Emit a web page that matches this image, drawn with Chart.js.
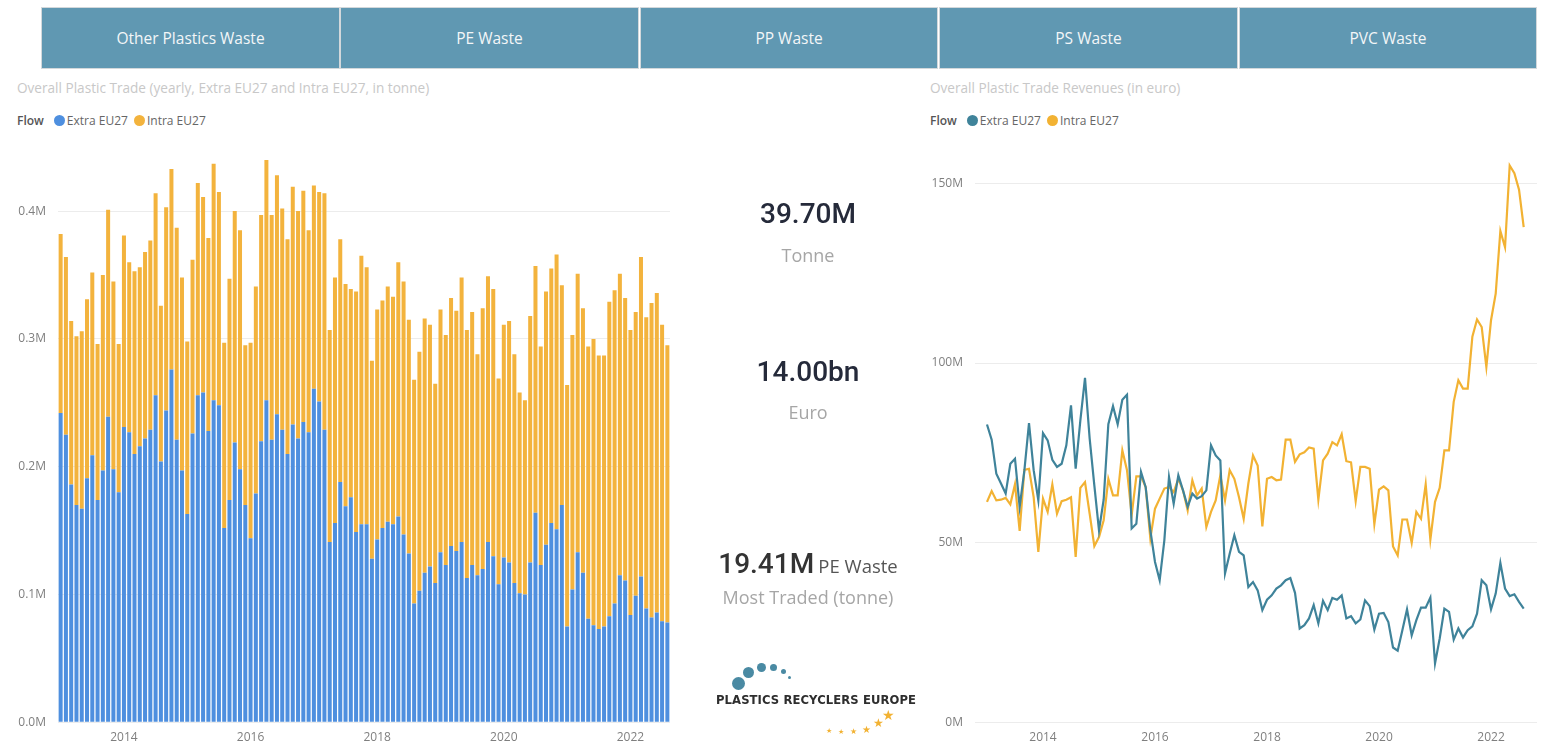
<!DOCTYPE html>
<html>
<head>
<meta charset="utf-8">
<script src="https://cdn.jsdelivr.net/npm/chart.js@4.4.1/dist/chart.umd.min.js"></script>
<style>
  body { margin: 0; background: #fff; font-family: 'Segoe UI', 'Open Sans', sans-serif; }
  #page { position: relative; width: 1542px; height: 743px; overflow: hidden; background: #fff; }
  .btn { position: absolute; top: 8px; height: 60px; background: #6098b2; color: #f3f6f8; font-size: 15.5px;
         display: flex; align-items: center; justify-content: center; box-shadow: 0 0 0 1px #d3d8db; }
  .title { position: absolute; top: 78px; font-size: 13.6px; color: #c8c8c8; white-space: nowrap; }
  .legend { position: absolute; top: 112px; font-size: 12px; color: #666; display: flex; align-items: center; white-space: nowrap; }
  .legend b { color: #555; font-weight: 600; margin-right: 8px; }
  .dot { width: 11px; height: 11px; border-radius: 50%; display: inline-block; margin: 0 2px 0 2px; }
  .kpi { position: absolute; left: 700px; width: 216px; text-align: center; }
  .kpi .num { font-family: 'Roboto', sans-serif; font-weight: 500; font-size: 28px; color: #252a3a; }
  .kpi .sub { font-size: 18px; color: #a6a6a6; }
  .chartbox { position: absolute; top: 128px; }
  #logo { position: absolute; left: 712px; top: 655px; width: 210px; height: 88px; }
  #logo .c { position: absolute; border-radius: 50%; background: #4a8aa3; }
  #logo .t { position: absolute; left: 4px; top: 38px; font-family: 'DejaVu Sans', sans-serif; font-weight: bold;
             font-size: 11.6px; color: #2e2e2e; letter-spacing: 0.1px; white-space: nowrap; }
  #logo .s { position: absolute; color: #f2b233; line-height: 1; }
</style>
</head>
<body>
<div id="page">
  <div class="btn" style="left:42px;width:297px">Other Plastics Waste</div>
  <div class="btn" style="left:341px;width:297px">PE Waste</div>
  <div class="btn" style="left:641px;width:296px">PP Waste</div>
  <div class="btn" style="left:940px;width:297px">PS Waste</div>
  <div class="btn" style="left:1240px;width:296px">PVC Waste</div>

  <div class="title" style="left:17px">Overall Plastic Trade (yearly, Extra EU27 and Intra EU27, in tonne)</div>
  <div class="legend" style="left:17px"><b>Flow</b><span class="dot" style="background:#4e8fdf"></span>Extra EU27<span class="dot" style="background:#f3b33d;margin-left:6px"></span>Intra EU27</div>

  <div class="title" style="left:930px">Overall Plastic Trade Revenues (in euro)</div>
  <div class="legend" style="left:930px"><b>Flow</b><span class="dot" style="background:#3f839a"></span>Extra EU27<span class="dot" style="background:#f2b233;margin-left:6px"></span>Intra EU27</div>

  <div class="chartbox" style="left:0px"><canvas id="tonneChart" width="680" height="615"></canvas></div>
  <div class="chartbox" style="left:900px"><canvas id="euroChart" width="642" height="615"></canvas></div>

  <div class="kpi" style="top:197px"><div class="num">39.70M</div><div class="sub" style="margin-top:13px">Tonne</div></div>
  <div class="kpi" style="top:355px"><div class="num">14.00bn</div><div class="sub" style="margin-top:12px">Euro</div></div>
  <div class="kpi" style="top:547px"><div><span class="num" style="color:#333">19.41M</span> <span style="font-size:18.5px;color:#555">PE Waste</span></div><div class="sub" style="margin-top:5px">Most Traded (tonne)</div></div>

  <div id="logo">
    <div class="c" style="left:20px;top:22px;width:13px;height:13px"></div>
    <div class="c" style="left:31px;top:12px;width:11px;height:11px"></div>
    <div class="c" style="left:45px;top:8px;width:9px;height:9px"></div>
    <div class="c" style="left:58px;top:9px;width:7px;height:7px"></div>
    <div class="c" style="left:69px;top:14px;width:5px;height:5px"></div>
    <div class="c" style="left:76px;top:21px;width:3px;height:3px"></div>
    <div class="t">PLASTICS RECYCLERS EUROPE</div>
    <div class="s" style="left:114px;top:72px;font-size:7px">★</div>
    <div class="s" style="left:126px;top:73px;font-size:7px">★</div>
    <div class="s" style="left:138px;top:72px;font-size:8px">★</div>
    <div class="s" style="left:150px;top:69px;font-size:10px">★</div>
    <div class="s" style="left:161px;top:62px;font-size:12px">★</div>
    <div class="s" style="left:170px;top:53px;font-size:14px">★</div>
  </div>
</div>

<script>
// months Jan 2013 .. Aug 2022
const months = [];
for (let y = 2013; y <= 2022; y++) {
    for (let m = 1; m <= 12; m++) {
        if (y === 2022 && m > 8) break;
        months.push(y + '-' + String(m).padStart(2, '0'));
    }
}
const yearTicks = ['2014', '2016', '2018', '2020', '2022'];

// tonnes, in millions
const tonneExtra = [
    0.242, 0.225, 0.186, 0.170, 0.167, 0.191, 0.209, 0.174, 0.197, 0.239, 0.198, 0.180,
    0.231, 0.227, 0.210, 0.216, 0.222, 0.229, 0.256, 0.204, 0.244, 0.276, 0.221, 0.197,
    0.163, 0.226, 0.256, 0.258, 0.228, 0.252, 0.248, 0.152, 0.174, 0.219, 0.198, 0.170,
    0.144, 0.179, 0.220, 0.252, 0.221, 0.241, 0.229, 0.210, 0.233, 0.222, 0.235, 0.227,
    0.261, 0.251, 0.229, 0.141, 0.156, 0.188, 0.169, 0.176, 0.149, 0.155, 0.155, 0.128,
    0.143, 0.152, 0.157, 0.155, 0.161, 0.147, 0.132, 0.093, 0.103, 0.117, 0.122, 0.109,
    0.133, 0.123, 0.138, 0.134, 0.141, 0.113, 0.123, 0.115, 0.120, 0.141, 0.130, 0.108,
    0.129, 0.125, 0.109, 0.101, 0.100, 0.125, 0.164, 0.123, 0.139, 0.156, 0.151, 0.170,
    0.075, 0.104, 0.133, 0.117, 0.081, 0.076, 0.073, 0.075, 0.083, 0.093, 0.115, 0.111,
    0.084, 0.099, 0.114, 0.089, 0.082, 0.086, 0.079, 0.078
];
const tonneIntra = [
    0.140, 0.139, 0.128, 0.132, 0.139, 0.140, 0.143, 0.122, 0.153, 0.162, 0.147, 0.116,
    0.150, 0.133, 0.143, 0.140, 0.146, 0.148, 0.158, 0.122, 0.159, 0.157, 0.166, 0.151,
    0.135, 0.136, 0.166, 0.153, 0.151, 0.185, 0.167, 0.145, 0.173, 0.181, 0.187, 0.125,
    0.153, 0.162, 0.177, 0.188, 0.176, 0.187, 0.173, 0.168, 0.186, 0.178, 0.181, 0.158,
    0.159, 0.164, 0.185, 0.166, 0.192, 0.190, 0.174, 0.163, 0.188, 0.210, 0.201, 0.155,
    0.180, 0.178, 0.184, 0.178, 0.199, 0.198, 0.183, 0.175, 0.187, 0.199, 0.189, 0.156,
    0.190, 0.180, 0.194, 0.188, 0.207, 0.194, 0.198, 0.173, 0.204, 0.208, 0.209, 0.161,
    0.182, 0.189, 0.179, 0.157, 0.152, 0.193, 0.193, 0.171, 0.198, 0.199, 0.215, 0.172,
    0.189, 0.199, 0.218, 0.207, 0.213, 0.224, 0.214, 0.212, 0.246, 0.245, 0.236, 0.221,
    0.223, 0.222, 0.250, 0.228, 0.246, 0.250, 0.232, 0.217
];

// euro, in millions
const euroExtra = [
    82.9, 78.7, 69.2, 66.5, 63.7, 72.0, 73.4, 60.0, 70.0, 83.3, 70.2, 61.8,
    80.5, 78.5, 73.1, 71.1, 72.0, 77.1, 88.2, 70.6, 84.0, 95.9, 79.0, 66.0,
    53.5, 62.0, 83.0, 88.0, 83.0, 89.8, 91.2, 54.0, 55.3, 69.7, 65.5, 53.5,
    44.7, 39.6, 50.7, 68.3, 60.9, 68.8, 64.6, 60.0, 63.7, 62.3, 63.0, 64.6,
    77.1, 74.3, 72.9, 41.5, 47.0, 52.1, 47.5, 46.5, 37.7, 39.1, 36.8, 31.3,
    34.2, 35.4, 37.3, 38.2, 39.6, 40.2, 36.1, 26.2, 27.1, 29.0, 32.7, 27.6,
    33.9, 31.3, 34.7, 34.2, 35.4, 29.0, 29.6, 27.6, 28.7, 34.0, 32.4, 25.9,
    30.3, 30.5, 28.0, 20.9, 20.0, 25.7, 31.5, 24.3, 28.5, 32.0, 32.0, 34.8,
    16.5, 23.4, 31.7, 30.8, 23.1, 26.2, 23.7, 25.7, 26.8, 30.3, 39.6, 38.2,
    31.5, 35.9, 44.4, 37.3, 35.2, 35.7, 33.6, 31.7
];
const euroIntra = [
    61.4, 64.4, 61.8, 62.0, 62.5, 60.7, 66.3, 53.3, 70.3, 70.6, 62.7, 47.5,
    62.3, 58.6, 66.2, 58.1, 61.6, 62.0, 62.7, 46.1, 65.3, 66.9, 58.1, 49.1,
    51.6, 56.3, 67.8, 63.2, 63.2, 75.7, 70.2, 57.7, 68.5, 68.5, 65.5, 51.2,
    59.5, 62.3, 65.1, 65.5, 64.1, 67.8, 64.6, 59.0, 67.4, 63.2, 65.1, 54.4,
    58.6, 61.8, 68.8, 61.8, 70.2, 67.8, 62.7, 56.7, 66.5, 74.3, 71.5, 54.6,
    67.8, 68.3, 67.4, 67.6, 78.7, 78.7, 72.5, 74.6, 75.2, 76.5, 76.2, 62.0,
    72.9, 74.8, 78.0, 77.1, 80.2, 72.7, 72.4, 61.6, 71.1, 71.1, 70.6, 55.2,
    64.8, 65.7, 64.6, 49.0, 46.5, 56.5, 56.5, 50.0, 58.6, 56.7, 66.3, 50.9,
    61.4, 65.3, 75.7, 75.7, 89.2, 95.2, 92.9, 92.9, 107.3, 112.1, 110.0, 98.9,
    111.9, 119.3, 136.7, 132.2, 154.9, 152.8, 148.2, 137.8
];

const tickColor = '#7f7f7f';
const gridColor = '#ececec';
const tickFont = { family: "'Segoe UI', 'Open Sans', sans-serif", size: 12 };

function yearLabel(i) {
    const m = months[i];
    if (m && m.endsWith('-01') && yearTicks.includes(m.slice(0, 4))) return m.slice(0, 4);
    return '';
}

new Chart(document.getElementById('tonneChart'), {
    type: 'bar',
    data: {
        labels: months,
        datasets: [{
            label: 'Extra EU27',
            data: tonneExtra,
            backgroundColor: '#4e8fdf',
            barPercentage: 0.76,
            categoryPercentage: 1
        }, {
            label: 'Intra EU27',
            data: tonneIntra,
            backgroundColor: '#f3b33d',
            barPercentage: 0.76,
            categoryPercentage: 1
        }]
    },
    options: {
        responsive: false,
        animation: false,
        layout: { padding: { top: 7, right: 10, left: 0, bottom: 0 } },
        plugins: { legend: { display: false }, tooltip: { enabled: false } },
        scales: {
            x: {
                stacked: true,
                grid: { display: false, drawTicks: false },
                border: { display: false },
                ticks: {
                    autoSkip: false, maxRotation: 0, padding: 8,
                    color: tickColor, font: tickFont,
                    callback: (v, i) => yearLabel(i)
                },
                afterFit: s => { s.height = 20.7; }
            },
            y: {
                stacked: true,
                min: 0,
                max: 0.45,
                border: { display: false },
                grid: { color: gridColor, drawTicks: false },
                ticks: {
                    stepSize: 0.1, includeBounds: false, padding: 12,
                    color: tickColor, font: tickFont,
                    callback: v => v.toFixed(1) + 'M'
                },
                afterFit: s => { s.width = 58; }
            }
        }
    }
});

new Chart(document.getElementById('euroChart'), {
    type: 'line',
    data: {
        datasets: [{
            label: 'Extra EU27',
            data: euroExtra.map((v, i) => ({ x: i, y: v })),
            borderColor: '#3f839a',
            borderWidth: 2.2,
            pointRadius: 0,
            tension: 0
        }, {
            label: 'Intra EU27',
            data: euroIntra.map((v, i) => ({ x: i, y: v })),
            borderColor: '#f2b233',
            borderWidth: 2.2,
            pointRadius: 0,
            tension: 0
        }]
    },
    options: {
        responsive: false,
        animation: false,
        layout: { padding: { top: 6.7, right: 5, left: 0, bottom: 0 } },
        plugins: { legend: { display: false }, tooltip: { enabled: false } },
        scales: {
            x: {
                type: 'linear',
                min: -2.57,
                max: 117.85,
                grid: { display: false, drawTicks: false },
                border: { display: false },
                afterBuildTicks: s => { s.ticks = yearTicks.map(y => ({ value: months.indexOf(y + '-01') })); },
                ticks: {
                    autoSkip: false, maxRotation: 0, padding: 8,
                    color: tickColor, font: tickFont,
                    callback: v => months[v].slice(0, 4)
                },
                afterFit: s => { s.height = 20.3; }
            },
            y: {
                min: 0,
                max: 160,
                border: { display: false },
                grid: { color: gridColor, drawTicks: false },
                ticks: {
                    stepSize: 50, includeBounds: false, padding: 12,
                    color: tickColor, font: tickFont,
                    callback: v => v + 'M'
                },
                afterFit: s => { s.width = 75; }
            }
        }
    }
});
</script>
</body>
</html>
